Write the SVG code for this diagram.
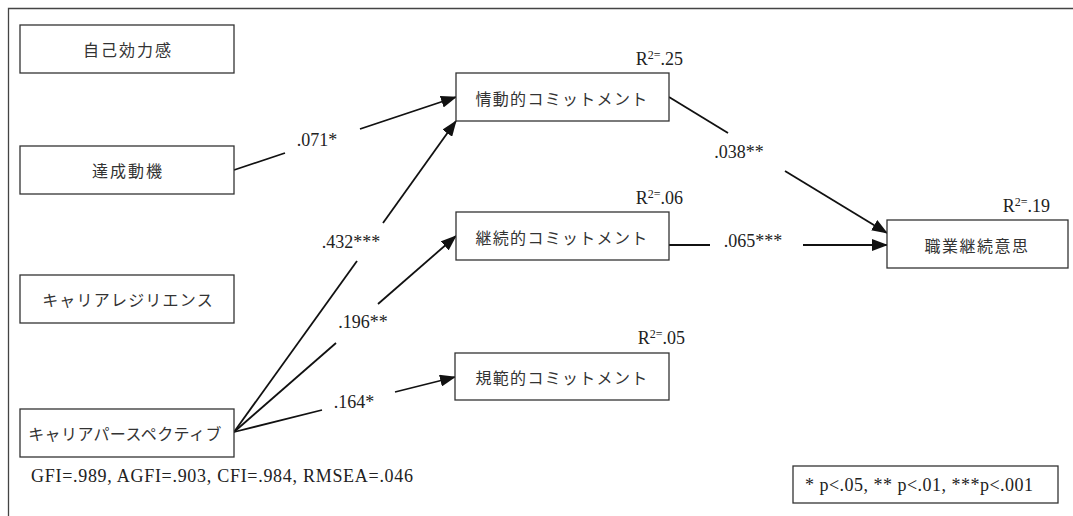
<svg xmlns="http://www.w3.org/2000/svg" width="1073" height="516" viewBox="0 0 1073 516">
<defs>
<style>
.box{fill:#fff;stroke:#333;stroke-width:1.3}
.jp{font-family:"Noto Sans CJK JP","Liberation Serif",serif;font-size:16px;fill:#333;text-anchor:middle;dominant-baseline:central}
.num{font-family:"Liberation Serif","Noto Sans CJK JP",serif;font-size:18px;fill:#222}
.c{text-anchor:middle}
.r{text-anchor:end}
.edge{stroke:#111;stroke-width:1.8;fill:none}
.sup{font-size:12px}
</style>
<marker id="ah" markerUnits="userSpaceOnUse" markerWidth="16" markerHeight="12" viewBox="0 0 16 12" refX="15" refY="6" orient="auto">
<path d="M0,0 L16,6 L0,12 Z" fill="#111"/>
</marker>
</defs>
<rect width="1073" height="516" fill="#fff"/>
<path d="M8.5,530 V8.5 H1090" fill="none" stroke="#444" stroke-width="1.3"/>

<g id="connectors">
<line class="edge" x1="234" y1="170" x2="285" y2="153"/>
<line class="edge" x1="360" y1="129" x2="456" y2="97" marker-end="url(#ah)"/>
<line class="edge" x1="234" y1="432" x2="357" y2="261"/>
<line class="edge" x1="383" y1="223" x2="456" y2="121" marker-end="url(#ah)"/>
<line class="edge" x1="234" y1="432" x2="336" y2="343"/>
<line class="edge" x1="378" y1="304" x2="456" y2="236" marker-end="url(#ah)"/>
<line class="edge" x1="234" y1="432" x2="322" y2="410"/>
<line class="edge" x1="395" y1="392" x2="455" y2="377" marker-end="url(#ah)"/>
<line class="edge" x1="669" y1="97" x2="728" y2="133"/>
<line class="edge" x1="785" y1="171" x2="887" y2="233" marker-end="url(#ah)"/>
<line class="edge" x1="669" y1="245" x2="710" y2="245"/>
<line class="edge" x1="803" y1="245" x2="887" y2="245" marker-end="url(#ah)"/>
<text class="num c" x="317" y="146">.071*</text>
<text class="num c" x="351" y="248">.432***</text>
<text class="num c" x="363" y="328">.196**</text>
<text class="num c" x="354" y="408">.164*</text>
<text class="num c" x="739" y="158">.038**</text>
<text class="num c" x="753" y="247">.065***</text>
</g>

<g id="n-jikokouryokukan">
<rect class="box" x="20" y="25" width="214" height="48"/>
<text class="jp" x="128" y="49" letter-spacing="2">自己効力感</text>
</g>
<g id="n-tassei">
<rect class="box" x="20" y="146" width="214" height="48"/>
<text class="jp" x="128" y="170" letter-spacing="2">達成動機</text>
</g>
<g id="n-resilience">
<rect class="box" x="20" y="275" width="214" height="48"/>
<text class="jp" x="128" y="299" letter-spacing="1.2">キャリアレジリエンス</text>
</g>
<g id="n-perspective">
<rect class="box" x="20" y="409" width="214" height="48"/>
<text class="jp" x="125" y="433" font-size="15" letter-spacing="0.4">キャリアパースペクティブ</text>
</g>
<g id="n-joudou">
<rect class="box" x="456" y="73" width="213" height="48"/>
<text class="jp" x="562" y="98" letter-spacing="1.3">情動的コミットメント</text>
<text class="num r" x="683" y="65">R<tspan class="sup" dy="-6">2=</tspan><tspan dy="6">.25</tspan></text>
</g>
<g id="n-keizoku">
<rect class="box" x="456" y="212" width="213" height="48"/>
<text class="jp" x="562" y="237" letter-spacing="1.3">継続的コミットメント</text>
<text class="num r" x="683" y="204">R<tspan class="sup" dy="-6">2=</tspan><tspan dy="6">.06</tspan></text>
</g>
<g id="n-kihan">
<rect class="box" x="455" y="353" width="214" height="47"/>
<text class="jp" x="562" y="377" letter-spacing="1.3">規範的コミットメント</text>
<text class="num r" x="685" y="344">R<tspan class="sup" dy="-6">2=</tspan><tspan dy="6">.05</tspan></text>
</g>
<g id="n-shokugyou">
<rect class="box" x="887" y="220" width="181" height="48"/>
<text class="jp" x="977" y="245" letter-spacing="1.5">職業継続意思</text>
<text class="num r" x="1050" y="212">R<tspan class="sup" dy="-6">2=</tspan><tspan dy="6">.19</tspan></text>
</g>
<g id="fit">
<text class="num" x="31" y="482" textLength="382" lengthAdjust="spacing">GFI=.989, AGFI=.903, CFI=.984, RMSEA=.046</text>
</g>
<g id="legend">
<rect class="box" x="793" y="466" width="265" height="37"/>
<text class="num" x="805" y="491" textLength="228" lengthAdjust="spacing">* p&lt;.05, ** p&lt;.01, ***p&lt;.001</text>
</g>
</svg>
